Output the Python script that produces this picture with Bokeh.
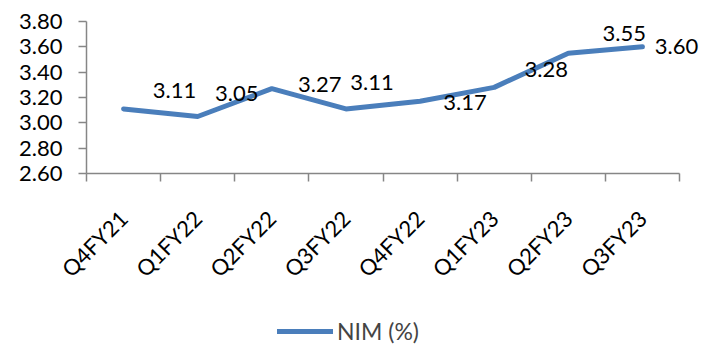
from bokeh.plotting import figure
from bokeh.models import (ColumnDataSource, FixedTicker, Legend, LegendItem,
                          Range1d, NumeralTickFormatter)
from bokeh.core.properties import value
from bokeh.embed import file_html
from bokeh.resources import INLINE
import math

# Net interest margin by quarter
quarters = ["Q4FY21", "Q1FY22", "Q2FY22", "Q3FY22",
            "Q4FY22", "Q1FY23", "Q2FY23", "Q3FY23"]
nim = [3.11, 3.05, 3.27, 3.11, 3.17, 3.28, 3.55, 3.60]
y_ticks = [2.60, 2.80, 3.00, 3.20, 3.40, 3.60, 3.80]
y_min, y_max = 2.60, 3.80

# Screen offsets (px) for each value label relative to its point (down = positive)
label_dx = [51, 39, 48, 26, 45, 52, 56, 34]
label_dy = [-18, -23, -4, -26, 1, -18, -20, 0]

FONT = "Lato"
AXIS_GREY = "#868686"
LINE_BLUE = "#4A7EBB"

W, H = 717, 345
LEFT, TOP = 86, 21                  # where the axes meet the canvas
AXIS_PX_W, AXIS_PX_H = 593, 152     # extent of the axes in pixels

n = len(quarters)
centers = [i + 0.5 for i in range(n)]
src = ColumnDataSource(dict(
    x=centers, y=nim,
    txt=[f"{v:.2f}" for v in nim],
    dx=label_dx, dy=label_dy,
))

# The frame covers the whole canvas so tick labels, value labels and the
# legend are never clipped; both axes are pinned to the data extent.
ux = n / AXIS_PX_W
uy = (y_max - y_min) / AXIS_PX_H
x_range = Range1d(-LEFT * ux, (W - LEFT) * ux)
y_range = Range1d(y_max - (H - TOP) * uy, y_max + TOP * uy)

p = figure(width=W, height=H, output_backend="svg", toolbar_location=None,
           x_range=x_range, y_range=y_range,
           min_border_left=0, min_border_right=0,
           min_border_top=0, min_border_bottom=0)
p.outline_line_color = None
p.xgrid.visible = False
p.ygrid.visible = False
p.background_fill_color = "white"
p.border_fill_color = "white"

line = p.line("x", "y", source=src, line_color=LINE_BLUE, line_width=5,
              line_cap="round", line_join="round")

p.text("x", "y", text="txt", source=src, x_offset="dx", y_offset="dy",
       text_font=value(FONT), text_font_size="22px", text_color="black",
       text_align="center", text_baseline="middle")

# y axis
ya = p.yaxis[0]
ya.fixed_location = 0
ya.bounds = (y_min, y_max)
ya.ticker = FixedTicker(ticks=y_ticks)
ya.formatter = NumeralTickFormatter(format="0.00")
ya.axis_line_color = AXIS_GREY
ya.axis_line_width = 1.5
ya.major_tick_line_color = AXIS_GREY
ya.major_tick_line_width = 1.5
ya.major_tick_out = 8
ya.major_tick_in = 0
ya.minor_tick_line_color = None
ya.major_label_text_font = FONT
ya.major_label_text_font_size = "22px"
ya.major_label_text_color = "black"
ya.major_label_standoff = 16

# x axis: labels at category centres, tick marks on category boundaries
xa = p.xaxis[0]
xa.fixed_location = y_min
xa.bounds = (0, n)
xa.ticker = FixedTicker(ticks=centers, minor_ticks=list(range(n + 1)))
xa.major_label_overrides = {c: q for c, q in zip(centers, quarters)}
xa.major_label_orientation = math.pi / 4
xa.axis_line_color = AXIS_GREY
xa.axis_line_width = 1.5
xa.major_tick_line_color = None
xa.major_tick_out = 0
xa.major_tick_in = 0
xa.minor_tick_line_color = AXIS_GREY
xa.minor_tick_line_width = 1.5
xa.minor_tick_out = 8
xa.minor_tick_in = 0
xa.major_label_text_font = FONT
xa.major_label_text_font_size = "22px"
xa.major_label_text_color = "black"
xa.major_label_standoff = 33

legend = Legend(items=[LegendItem(label="NIM (%)", renderers=[line])],
                location=(277, 0), orientation="horizontal",
                padding=0, margin=0, border_line_color=None,
                background_fill_alpha=0,
                label_text_font=FONT, label_text_font_size="23px",
                glyph_width=56, label_standoff=4)
p.add_layout(legend, "center")

open("out.html", "w").write(file_html(p, INLINE))
